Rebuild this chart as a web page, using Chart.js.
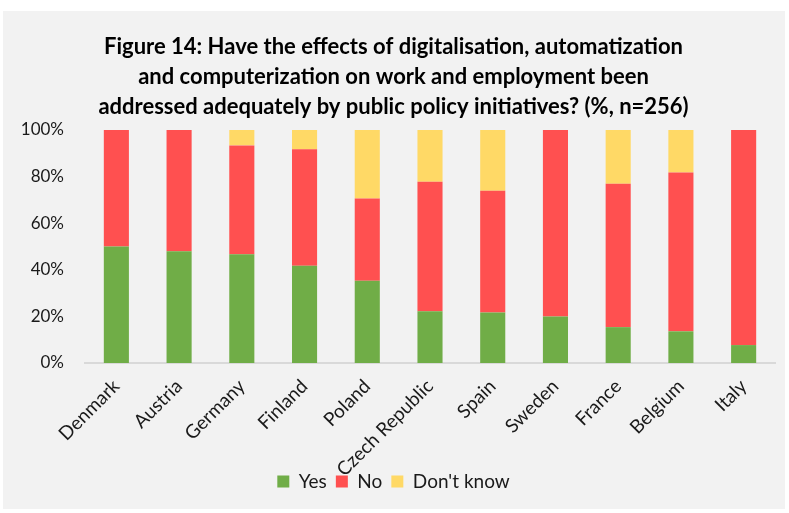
<!DOCTYPE html>
<html>
<head>
<meta charset="utf-8">
<script src="https://cdn.jsdelivr.net/npm/chart.js@4"></script>
<style>
  html, body { margin: 0; padding: 0; background: #ffffff; }
  #wrap { width: 789px; height: 513px; }
</style>
</head>
<body>
<div id="wrap"><canvas id="chart"></canvas></div>
<script>
// survey answers per country, in percent
const countries = ["Denmark", "Austria", "Germany", "Finland", "Poland", "Czech Republic", "Spain", "Sweden", "France", "Belgium", "Italy"];
const yesValues = [50, 48, 46.7, 41.7, 35.3, 22.2, 21.7, 20, 15.4, 13.6, 7.7];
const noValues = [50, 52, 46.7, 50, 35.3, 55.6, 52.2, 80, 61.5, 68.2, 92.3];
const dontKnowValues = [0, 0, 6.6, 8.3, 29.4, 22.2, 26.1, 0, 23.1, 18.2, 0];
const yTicks = [0, 20, 40, 60, 80, 100];

const titleLines = [
    "Figure 14: Have the effects of digitalisation, automatization",
    "and computerization on work and employment been",
    "addressed adequately by public policy initiatives? (%, n=256)"
];

const FONT = "Lato, 'Open Sans', sans-serif";

// grey panel behind the whole chart
const panelBackground = {
    id: "panelBackground",
    beforeDraw(chart) {
        const ctx = chart.ctx;
        ctx.save();
        ctx.fillStyle = "#ffffff";
        ctx.fillRect(0, 0, chart.width, chart.height);
        ctx.fillStyle = "#f2f2f2";
        ctx.fillRect(3, 11, 782, 498);
        ctx.restore();
    }
};

new Chart(document.getElementById("chart").getContext("2d"), {
    type: "bar",
    data: {
        labels: countries,
        datasets: [
            { label: "Yes", data: yesValues, backgroundColor: "#70ad47" },
            { label: "No", data: noValues, backgroundColor: "#ff5050" },
            { label: "Don't know", data: dontKnowValues, backgroundColor: "#ffd966" }
        ]
    },
    options: {
        responsive: true,
        maintainAspectRatio: false,
        animation: false,
        datasets: {
            bar: { categoryPercentage: 0.4, barPercentage: 1, borderWidth: 0 }
        },
        layout: {
            padding: { left: 12, right: 14, top: 32, bottom: 12 }
        },
        plugins: {
            title: {
                display: true,
                text: titleLines,
                color: "#000000",
                font: { family: FONT, size: 22, weight: "bold", lineHeight: 30 / 22 },
                padding: { top: 0, bottom: 8 }
            },
            legend: {
                position: "bottom",
                labels: {
                    color: "#1a1a1a",
                    font: { family: FONT, size: 19 },
                    boxWidth: 12,
                    boxHeight: 12,
                    padding: 9
                }
            },
            tooltip: { enabled: false }
        },
        scales: {
            x: {
                stacked: true,
                grid: { display: false, drawTicks: false },
                border: { display: true, color: "#d9d9d9", width: 2 },
                ticks: {
                    color: "#1a1a1a",
                    font: { family: FONT, size: 19 },
                    minRotation: 45,
                    maxRotation: 45,
                    padding: 12,
                    autoSkip: false
                },
                afterFit(scale) {
                    scale.height = 100;
                    // long labels run down into the legend row, so don't clip them to the axis box
                    scale._computeLabelArea = () => null;
                }
            },
            y: {
                stacked: true,
                min: 0,
                max: 100,
                afterBuildTicks(scale) { scale.ticks = yTicks.map(v => ({ value: v })); },
                grid: { display: false, drawTicks: false },
                border: { display: false },
                ticks: {
                    color: "#1a1a1a",
                    font: { family: FONT, size: 17 },
                    padding: 21,
                    callback: v => v + "%"
                },
                afterFit(scale) { scale.width = 73; }
            }
        }
    },
    plugins: [panelBackground]
});
</script>
</body>
</html>
